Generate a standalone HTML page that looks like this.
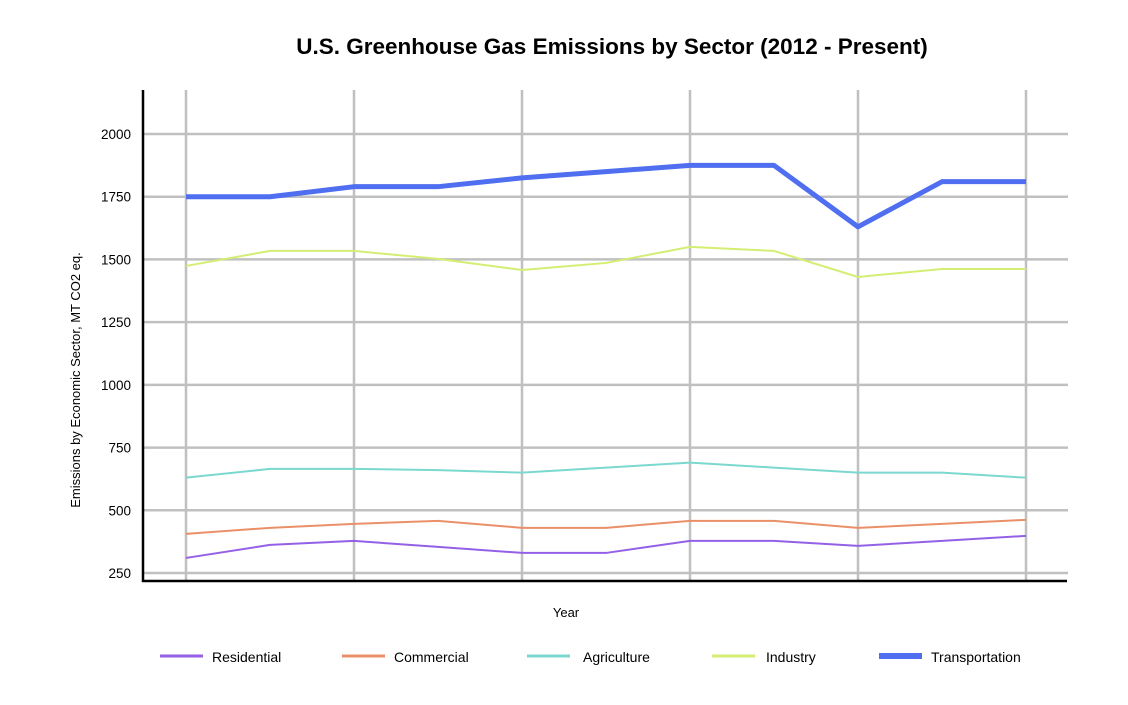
<!DOCTYPE html>
<html><head><meta charset="utf-8"><style>
body{margin:0;background:#fff;font-family:"Liberation Sans",sans-serif}
</style></head><body>
<svg width="1128" height="700" font-family="Liberation Sans, sans-serif">
<text x="612" y="54" text-anchor="middle" font-size="22.5" font-weight="bold">U.S. Greenhouse Gas Emissions by Sector (2012 - Present)</text>
<g id="grid"></g>
<g id="yt"></g>
<g id="series"></g>
<line x1="143" y1="90" x2="143" y2="582" stroke="#000" stroke-width="2.5"/>
<line x1="142" y1="581" x2="1067" y2="581" stroke="#000" stroke-width="2.5"/>
<text x="566" y="617" text-anchor="middle" font-size="13">Year</text>
<text transform="translate(80,380) rotate(-90)" text-anchor="middle" font-size="13">Emissions by Economic Sector, MT CO2 eq.</text>
<g id="legend"></g>
</svg>
<script>
const years=[2012,2013,2014,2015,2016,2017,2018,2019,2020,2021,2022];
const yTicks=[250,500,750,1000,1250,1500,1750,2000];
const residential=[310,362,378,354,330,330,378,378,358,378,398];
const commercial=[406,430,446,458,430,430,458,458,430,446,462];
const agriculture=[630,665,665,660,650,670,690,670,650,650,630];
const industry=[1474,1534,1534,1502,1458,1486,1550,1534,1430,1462,1462];
const transportation=[1750,1750,1790,1790,1825,1850,1875,1875,1630,1810,1810];
const NS="http://www.w3.org/2000/svg";
const xS=i=>186+84*i;
const yS=v=>573-(v-250)*(439/1750);
function mk(t,a,p){const e=document.createElementNS(NS,t);for(const k in a)e.setAttribute(k,a[k]);p.appendChild(e);return e;}
const grid=document.getElementById('grid'),yt=document.getElementById('yt');
yTicks.forEach(v=>{
 const l=mk('line',{x1:143,x2:1068,y1:yS(v),y2:yS(v),stroke:'#c0c0c0','stroke-width':2.5},grid);
 
 
 const t=mk('text',{x:131,y:yS(v)+5,'text-anchor':'end','font-size':13.5},yt);
 t.textContent=v;
 
 
});
years.forEach((y,i)=>{ if(i%2) return;
 const l=mk('line',{x1:xS(i),x2:xS(i),y1:90,y2:581,stroke:'#c0c0c0','stroke-width':2.5},grid);
 
 
});
const series=[["Residential",residential,"#9461e6",2,160,212],["Commercial",commercial,"#ea9068",2,342,394],["Agriculture",agriculture,"#7bd8cf",2,527,583],["Industry",industry,"#d4ee73",2,712,766],["Transportation",transportation,"#4f6ef0",5,879,931]];
const sg=document.getElementById('series'),lg=document.getElementById('legend');
series.forEach(([n,d,c,w,lx,tx])=>{
 const p=mk('polyline',{points:d.map((v,i)=>xS(i)+','+yS(v)).join(' '),fill:'none',stroke:c,'stroke-width':w,'stroke-linejoin':'round'},sg);
 
 
 const g=mk('g',{},lg);
 
 
 mk('line',{x1:lx,x2:lx+43,y1:656,y2:656,stroke:c,'stroke-width':w+1},g);
 const t=mk('text',{x:tx,y:662,'font-size':14},g);t.textContent=n;
});
</script>
</body></html>
